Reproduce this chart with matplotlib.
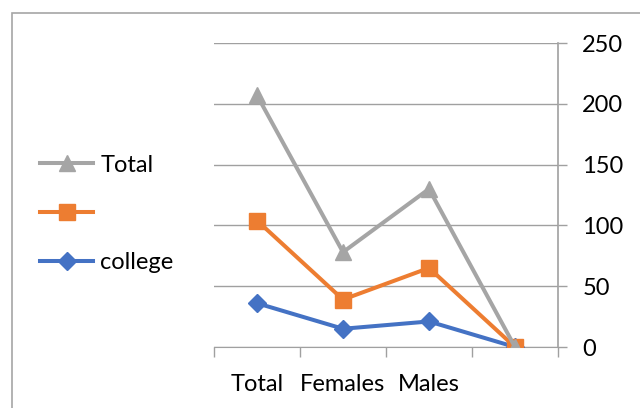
import matplotlib
matplotlib.use("Agg")
import matplotlib.pyplot as plt
from matplotlib.patches import Rectangle
from matplotlib.ticker import FixedLocator

categories = ["Total", "Females", "Males", ""]
total_vals = [207, 78, 130, 0]
orange_vals = [104, 39, 65, 0]
college_vals = [36, 15, 21, 0]
y_ticks = [0, 50, 100, 150, 200, 250]

plt.rcParams['font.family'] = ['Lato', 'DejaVu Sans']
FS = 17

fig = plt.figure(figsize=(6.4, 4.08), dpi=100)
ax = fig.add_axes([214/640, 1-347/408, (558-214)/640, (347-43)/408])

x = list(range(len(categories)))
l_col, = ax.plot(x, college_vals, color='#4472C4', lw=2.9, marker='D', ms=9, label='college', zorder=3)
l_or, = ax.plot(x, orange_vals, color='#ED7D31', lw=2.9, marker='s', ms=11, label=' ', zorder=4)
l_tot, = ax.plot(x, total_vals, color='#A5A5A5', lw=2.9, marker='^', ms=11, label='Total', zorder=5)

ax.set_xlim(-0.5, len(categories) - 0.5)
ax.set_ylim(0, 250)
ax.set_yticks(y_ticks)
ax.yaxis.tick_right()
ax.tick_params(axis='y', length=6.5, width=1, color='#A0A0A0', direction='out',
               labelsize=FS, pad=11, labelcolor='black')
ax.grid(axis='y', color='#A0A0A0', lw=1.0)
ax.set_axisbelow(True)

ax.set_xticks(x)
ax.set_xticklabels(categories)
ax.tick_params(axis='x', length=0, labelsize=FS, pad=19.5)
ax.xaxis.set_minor_locator(FixedLocator([i - 0.5 for i in range(len(categories) + 1)]))
ax.tick_params(axis='x', which='minor', length=7, color='#A0A0A0', width=1, direction='out')

for s in ['top', 'left']:
    ax.spines[s].set_visible(False)
ax.spines['right'].set_color('#A0A0A0')
ax.spines['bottom'].set_color('#A0A0A0')
ax.spines['right'].set_linewidth(1.2)

fig.legend([l_tot, l_or, l_col], ['Total', '', 'college'],
           loc='center left', bbox_to_anchor=(40/640, 1-214/408),
           frameon=False, fontsize=FS, handlelength=2.25, handletextpad=0.3,
           labelspacing=1.18, borderaxespad=0, borderpad=0)

fig.patches.append(Rectangle((12/640, -0.2), 1.5, 0.2 + (1-13/408), transform=fig.transFigure,
                             fill=False, edgecolor='#A6A6A6', lw=1.2))

fig.savefig('out.png', dpi=100)
